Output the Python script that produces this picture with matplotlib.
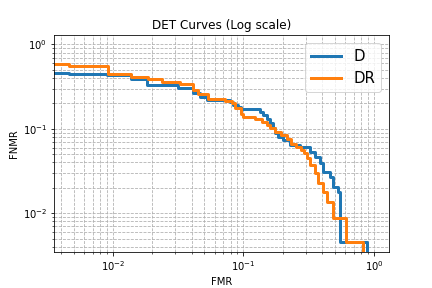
import matplotlib
matplotlib.use('Agg')
import matplotlib.pyplot as plt

# DET curve for D: false match rate and the FNMR level held from that point on
d_fmr = [0.003, 0.00458, 0.00901, 0.01362, 0.01826, 0.03156, 0.0407, 0.0463,
         0.0521, 0.0787, 0.0829, 0.0906, 0.0955, 0.1336, 0.1416, 0.1504,
         0.1594, 0.1672, 0.1741, 0.1845, 0.2016, 0.2269, 0.2707, 0.3229,
         0.3528, 0.3854, 0.4086, 0.4598, 0.4874, 0.5324, 0.5485, 0.879]
d_fnmr = [0.458, 0.446, 0.434, 0.392, 0.333, 0.309, 0.265, 0.238,
          0.221, 0.207, 0.193, 0.182, 0.171, 0.160, 0.147, 0.130,
          0.117, 0.102, 0.089, 0.081, 0.074, 0.0646, 0.0607, 0.0538,
          0.0469, 0.0392, 0.0312, 0.0272, 0.0207, 0.018, 0.00453, 0.001]

# DET curve for DR
dr_fmr = [0.003, 0.00458, 0.00917, 0.01386, 0.01859, 0.02355, 0.03253, 0.0411,
          0.0447, 0.0533, 0.0720, 0.0810, 0.0859, 0.0955, 0.0989, 0.1223,
          0.1376, 0.1504, 0.1594, 0.1741, 0.1935, 0.2152, 0.2309, 0.2522,
          0.2756, 0.2905, 0.3063, 0.3229, 0.3528, 0.3740, 0.4086, 0.4337,
          0.4874, 0.6099, 0.828]
dr_fnmr = [0.586, 0.554, 0.446, 0.411, 0.389, 0.364, 0.339, 0.290,
           0.258, 0.225, 0.215, 0.202, 0.176, 0.149, 0.139, 0.131,
           0.122, 0.1115, 0.102, 0.0914, 0.0849, 0.0761, 0.0664, 0.0603,
           0.0556, 0.0515, 0.0449, 0.0374, 0.0298, 0.0227, 0.018, 0.0137,
           0.0089, 0.00453, 0.001]

labels = ['D', 'DR']


def plot_det(curves):
    fig = plt.figure(figsize=(6, 4), dpi=72)
    plt.subplots_adjust(left=0.125, right=0.9, top=0.877, bottom=0.126)

    for (fmr, fnmr), label in zip(curves, labels):
        plt.plot(fmr, fnmr, drawstyle='steps-post', linewidth=3, label=label)

    plt.xscale('log')
    plt.yscale('log')
    plt.xlim(0.00353, 1.30)
    plt.ylim(0.0035, 1.28)
    plt.grid(True, which='both', linestyle='--')
    plt.title('DET Curves (Log scale)')
    plt.xlabel('FMR')
    plt.ylabel('FNMR')
    plt.legend(loc='upper right', fontsize=15)

    fig.savefig('out.png', dpi=72)


def main():
    plot_det([(d_fmr, d_fnmr), (dr_fmr, dr_fnmr)])


if __name__ == "__main__":
    main()
